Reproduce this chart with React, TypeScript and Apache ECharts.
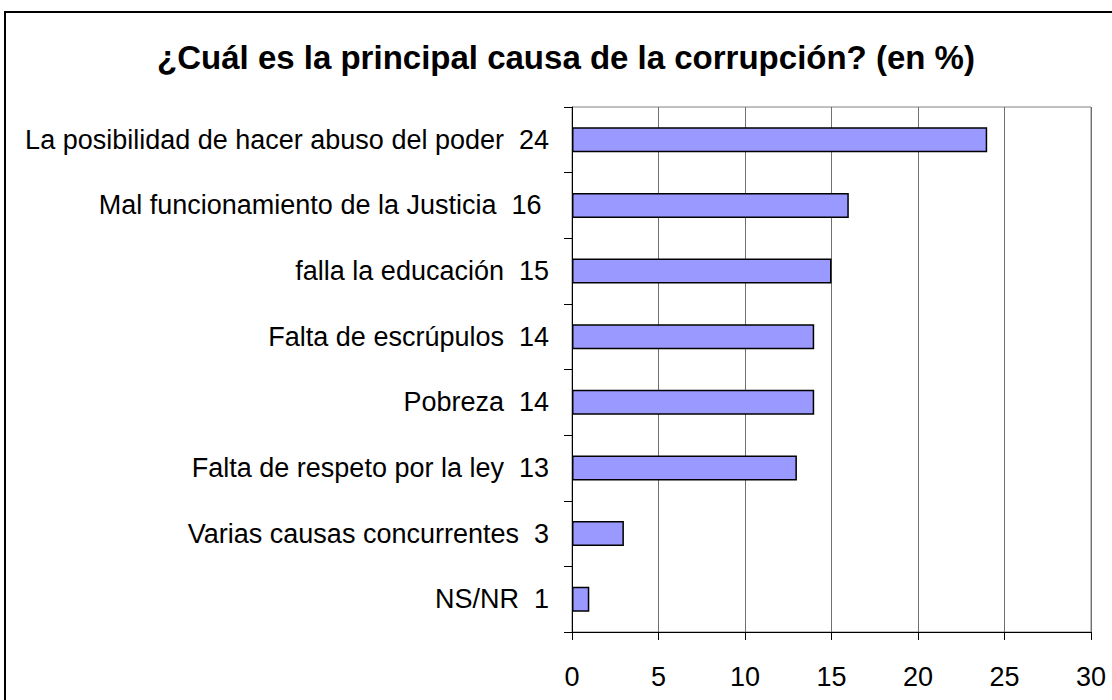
import React, { useEffect, useRef } from "react";
import * as echarts from "echarts";

const categories = [
  "La posibilidad de hacer abuso del poder  24",
  "Mal funcionamiento de la Justicia  16 ",
  "falla la educación  15",
  "Falta de escrúpulos  14",
  "Pobreza  14",
  "Falta de respeto por la ley  13",
  "Varias causas concurrentes  3",
  "NS/NR  1",
];
const values = [24, 16, 15, 14, 14, 13, 3, 1];
const xTicks = { min: 0, max: 30, interval: 5 };
const titleText = "¿Cuál es la principal causa de la corrupción? (en %)";

const FONT = "'Liberation Sans', Arial, sans-serif";

export default function App() {
  const ref = useRef<HTMLDivElement>(null);
  useEffect(() => {
    document.body.style.margin = "0";
    const chart = echarts.init(ref.current!, null, { renderer: "svg" });
    chart.setOption({
      animation: false,
      backgroundColor: "#ffffff",
      textStyle: { fontFamily: FONT },
      graphic: [
        {
          type: "rect",
          shape: { x: 5, y: 12, width: 1200, height: 800 },
          style: { fill: "none", stroke: "#000", lineWidth: 2 },
          z: 0,
        },
        {
          type: "text",
          x: 566,
          y: 57,
          style: {
            text: titleText,
            font: `bold 33px ${FONT}`,
            fill: "#000",
            textAlign: "center",
            textVerticalAlign: "middle",
          },
        },
      ],
      grid: {
        left: 572,
        right: 21,
        top: 107,
        bottom: 68,
        show: true,
        borderColor: "#808080",
        borderWidth: 1,
        containLabel: false,
      },
      xAxis: {
        type: "value",
        min: xTicks.min,
        max: xTicks.max,
        interval: xTicks.interval,
        axisLine: { show: true, lineStyle: { color: "#000", width: 1 } },
        axisTick: { show: true, length: 8, lineStyle: { color: "#000" } },
        splitLine: { show: true, lineStyle: { color: "#707070", width: 1 } },
        axisLabel: { fontSize: 27, color: "#000", margin: 31, fontFamily: FONT },
      },
      yAxis: {
        type: "category",
        inverse: true,
        data: categories,
        axisLine: { show: true, lineStyle: { color: "#000", width: 1 } },
        axisTick: { show: true, length: 8, lineStyle: { color: "#000" } },
        axisLabel: { fontSize: 27, color: "#000", margin: 23, fontFamily: FONT },
        splitLine: { show: false },
      },
      series: [
        {
          type: "bar",
          data: values,
          barWidth: 25,
          itemStyle: { color: "#9999FF", borderColor: "#000", borderWidth: 1.5 },
        },
      ],
    });
    return () => chart.dispose();
  }, []);
  return <div ref={ref} style={{ width: 1112, height: 700 }} />;
}
